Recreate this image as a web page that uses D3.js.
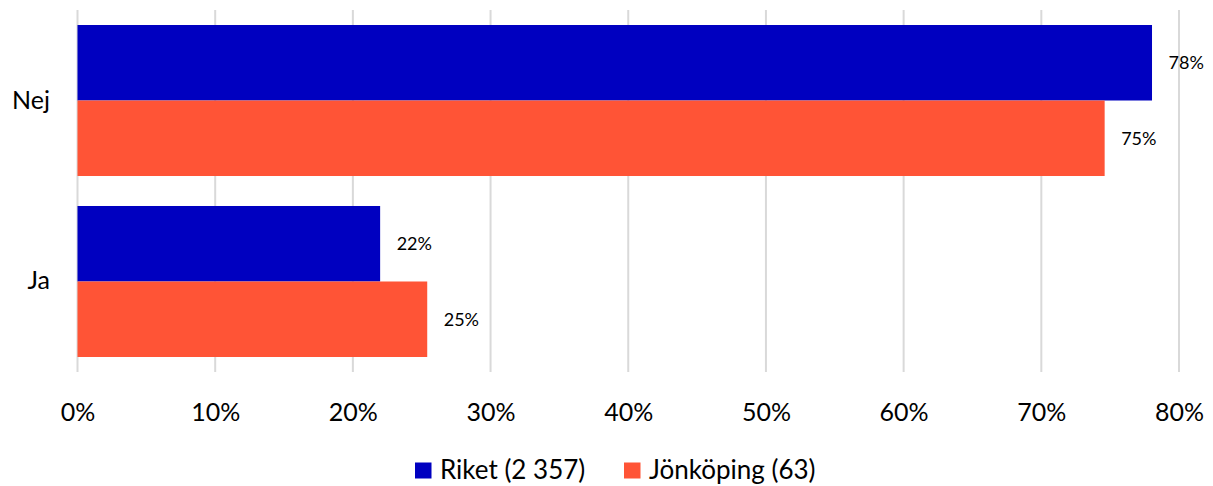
<!DOCTYPE html>
<html><head><meta charset="utf-8">
<script src="https://cdn.jsdelivr.net/npm/d3@7"></script>
<style>body{margin:0;background:#fff;} svg{display:block;font-family:Lato,"Open Sans",sans-serif;}</style>
</head><body>
<script>
const categories = ["Nej", "Ja"];
const seriesNames = ["Riket (2 357)", "Jönköping (63)"];
const riket = [78.04, 21.98];
const jonkoping = [74.6, 25.4];
const labelsRiket = ["78%", "22%"];
const labelsJonk = ["75%", "25%"];
const xTicks = [0, 10, 20, 30, 40, 50, 60, 70, 80];
const colors = ["#0000C0", "#FF5436"];

const W = 1213, H = 486;
const FONT = "Lato, 'Open Sans', sans-serif";
const svg = d3.select("body").append("svg").attr("width", W).attr("height", H);

const x = d3.scaleLinear().domain([0, 80]).range([77.5, 1179]);
const y = d3.scaleBand().domain(categories).range([10, 372]).paddingInner(0.1657).paddingOuter(0.0829);
const sub = d3.scaleBand().domain([0, 1]).range([0, y.bandwidth()]);

// gridlines
svg.append("g").selectAll("line").data(xTicks).join("line")
  .attr("x1", d => x(d)).attr("x2", d => x(d))
  .attr("y1", 10).attr("y2", 372)
  .attr("stroke", "#D9D9D9").attr("stroke-width", 2);

// axis labels
const xAxis = d3.axisBottom(x).tickValues(xTicks).tickFormat(d => d + "%").tickSize(0).tickPadding(0);
const gx = svg.append("g").attr("transform", "translate(0,400)").call(xAxis);
gx.select(".domain").remove();
gx.selectAll("text").attr("font-size", 25).attr("fill", "#000").attr("font-family", FONT).attr("dy", "0.36em").attr("y", 11.5);

const yAxis = d3.axisLeft(y).tickSize(0).tickPadding(0);
const gy = svg.append("g").attr("transform", "translate(50,0)").call(yAxis);
gy.select(".domain").remove();
gy.selectAll("text").attr("font-size", 25).attr("fill", "#000").attr("font-family", FONT);

const data = [riket, jonkoping];
const labels = [labelsRiket, labelsJonk];
data.forEach((vals, si) => {
  const g = svg.append("g");
  g.selectAll("rect").data(categories).join("rect")
    .attr("x", x(0))
    .attr("y", (c) => y(c) + sub(si))
    .attr("width", (c, i) => x(vals[i]) - x(0))
    .attr("height", sub.bandwidth())
    .attr("fill", colors[si]);
  g.selectAll("text").data(categories).join("text")
    .attr("x", (c, i) => x(vals[i]) + 16.5)
    .attr("y", (c) => y(c) + sub(si) + sub.bandwidth() / 2)
    .attr("dy", "0.36em")
    .attr("font-size", 18)
    .attr("fill", "#000")
    .text((c, i) => labels[si][i]);
});

// legend
const legendX = [415, 624];
seriesNames.forEach((n, i) => {
  svg.append("rect").attr("x", legendX[i]).attr("y", 462.5).attr("width", 16.5).attr("height", 16).attr("fill", colors[i]);
  svg.append("text").attr("x", legendX[i] + 25).attr("y", 469.5).attr("dy", "0.36em")
    .attr("font-size", 26).attr("fill", "#000").text(n);
});
</script>
</body></html>
